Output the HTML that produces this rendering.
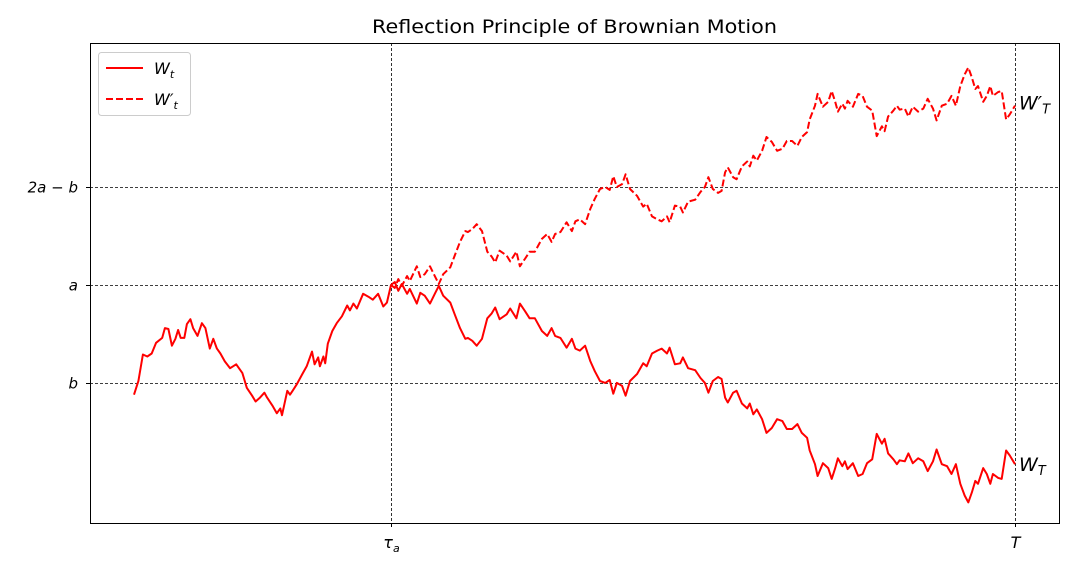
<!DOCTYPE html>
<html><head><meta charset="utf-8"><style>
body{margin:0;background:#fff;}
svg{display:block;font-family:"DejaVu Sans","Liberation Sans",sans-serif;}
</style></head><body>
<svg id="chart" width="1090" height="577">
<rect x="0" y="0" width="1090" height="577" fill="#fff"/>
<text x="372" y="33" font-size="19" textLength="405" lengthAdjust="spacingAndGlyphs" fill="#000">Reflection Principle of Brownian Motion</text>
<g id="grid"></g>
<g id="lines"></g>
<rect x="90.5" y="43.5" width="969" height="480" fill="none" stroke="#000" stroke-width="1"/>
<g id="ticks"></g>
<g>
<rect x="98.5" y="52.5" width="92" height="63" rx="3" fill="#fff" fill-opacity="0.8" stroke="#ccc"/>
<line x1="106" y1="68" x2="143" y2="68" stroke="red" stroke-width="2"/>
<text x="154" y="74" font-size="16" font-style="italic">W<tspan font-size="11" dy="4">t</tspan></text>
<line x1="106" y1="99" x2="143" y2="99" stroke="red" stroke-width="2" stroke-dasharray="7,3"/>
<text x="154" y="105" font-size="16" font-style="italic">W′<tspan font-size="11" dy="4">t</tspan></text>
</g>
</svg>
<script>
const times=[0,.005,.010,.015,.020,.025,.032,.035,.039,.043,.047,.050,.053,.057,.060,.064,.067,.072,.077,.081,.086,.090,.094,.098,.103,.109,.116,.123,.128,.134,.138,.143,.148,.151,.157,.162,.166,.168,.174,.177,.180,.185,.191,.196,.202,.205,.209,.211,.215,.217,.220,.225,.230,.236,.242,.245,.249,.253,.260,.266,.271,.277,.283,.287,.2917,.296,.300,.304,.310,.313,.321,.325,.330,.336,.342,.346,.351,.359,.364,.370,.376,.379,.384,.389,.395,.401,.406,.410,.415,.423,.427,.434,.438,.444,.449,.455,.463,.469,.474,.478,.484,.491,.497,.501,.506,.512,.518,.523,.529,.535,.540,.544,.548,.554,.558,.563,.571,.578,.582,.588,.594,.599,.605,.608,.614,.620,.623,.629,.637,.643,.648,.652,.657,.663,.667,.671,.674,.680,.684,.690,.696,.699,.703,.707,.713,.718,.724,.730,.736,.741,.747,.753,.758,.764,.767,.773,.776,.782,.788,.792,.796,.799,.804,.807,.810,.816,.822,.827,.832,.838,.843,.849,.852,.856,.862,.866,.869,.875,.879,.884,.890,.896,.901,.907,.911,.917,.923,.928,.933,.938,.943,.947,.951,.955,.958,.964,.968,.972,.975,.981,.985,.990,.994,1.000];
const values=[-.12,.02,.29,.27,.30,.41,.46,.56,.55,.38,.45,.54,.46,.46,.60,.65,.56,.48,.61,.56,.35,.45,.35,.30,.22,.15,.19,.10,-.05,-.13,-.19,-.15,-.10,-.15,-.23,-.31,-.26,-.33,-.08,-.12,-.08,-.01,.09,.17,.32,.19,.26,.17,.27,.20,.40,.53,.61,.68,.79,.74,.81,.76,.91,.88,.85,.91,.78,.82,1.00,1.03,.94,1.01,.91,.96,.81,.92,.89,.81,.92,.99,.89,.82,.70,.56,.45,.46,.43,.38,.45,.66,.71,.77,.65,.70,.76,.66,.81,.73,.66,.66,.53,.48,.56,.48,.46,.36,.45,.35,.33,.38,.22,.12,.02,.00,.03,-.11,.00,-.03,-.13,.02,.09,.20,.17,.30,.33,.35,.30,.36,.19,.20,.26,.15,.13,.05,.00,-.10,.02,.06,.04,-.15,-.20,-.10,-.08,-.21,-.26,-.21,-.32,-.27,-.37,-.51,-.46,-.37,-.39,-.47,-.47,-.42,-.51,-.56,-.69,-.83,-.95,-.82,-.87,-.98,-.87,-.77,-.85,-.80,-.88,-.82,-.95,-.93,-.82,-.78,-.52,-.62,-.57,-.72,-.78,-.83,-.79,-.80,-.72,-.82,-.77,-.80,-.90,-.80,-.68,-.83,-.85,-.93,-.83,-1.03,-1.15,-1.22,-1.12,-1.00,-1.03,-.87,-.93,-1.03,-.93,-.97,-.98,-.69,-.74,-.83];
const levelB=0, levelA=1;
const tau=0.2917, tEnd=1;
const yTickLabels=["b","a","2a − b"];
const xTickLabels=["τ","T"];

const NS="http://www.w3.org/2000/svg";
const PL=90,PR=1059,PT=43,PB=523;
const xMin=-0.05,xMax=1.05,yMin=-1.43,yMax=3.47;
function xs(t){return PL+(t-xMin)/(xMax-xMin)*(PR-PL);}
function ys(v){return PT+(yMax-v)/(yMax-yMin)*(PB-PT);}
function mk(tag,attrs,parent){const e=document.createElementNS(NS,tag);for(const k in attrs)e.setAttribute(k,attrs[k]);parent.appendChild(e);return e;}

const grid=document.getElementById('grid');
const lines=document.getElementById('lines');
const ticks=document.getElementById('ticks');
const yLevels=[levelB,levelA,2*levelA-levelB];
yLevels.forEach((v,i)=>{
  const y=Math.round(ys(v))+0.5;
  const g=mk('line',{x1:PL,x2:PR,y1:y,y2:y,stroke:'#000','stroke-width':0.8,'stroke-dasharray':'3,2'},grid);
  
  
  const tk=mk('line',{x1:PL-4,x2:PL,y1:y,y2:y,stroke:'#000','stroke-width':1},ticks);
  
  
  const tx=mk('text',{x:PL-12,y:y+5,'text-anchor':'end','font-size':15,'font-style':'italic'},ticks);
  tx.textContent=yTickLabels[i];
  
  
});
[tau,tEnd].forEach((t,i)=>{
  const x=Math.round(xs(t))+0.5;
  const g=mk('line',{x1:x,x2:x,y1:PT,y2:PB,stroke:'#000','stroke-width':0.8,'stroke-dasharray':'3,2'},grid);
  
  
  const tk=mk('line',{x1:x,x2:x,y1:PB,y2:PB+4,stroke:'#000','stroke-width':1},ticks);
  
  
  const tx=mk('text',{x:x,y:PB+25,'text-anchor':'middle','font-size':16,'font-style':'italic'},ticks);
  tx.textContent=xTickLabels[i];
  if(i===0){const s=mk('tspan',{'font-size':11,dy:4},tx);s.textContent='a';}
  
  
});

let dW='',dR='';
times.forEach((t,i)=>{
  const v=values[i];
  dW+=(i?'L':'M')+xs(t).toFixed(1)+','+ys(v).toFixed(1);
  if(t>=tau){const r=2*levelA-v;dR+=(dR?'L':'M')+xs(t).toFixed(1)+','+ys(r).toFixed(1);}
});
const pr=mk('path',{d:dR,fill:'none',stroke:'red','stroke-width':2,'stroke-dasharray':'7,3','stroke-linejoin':'round'},lines);


const pw=mk('path',{d:dW,fill:'none',stroke:'red','stroke-width':2,'stroke-linejoin':'round'},lines);



const last=values[values.length-1];
const l1=mk('text',{x:xs(tEnd)+4,y:ys(last)+7,'font-size':19,'font-style':'italic'},lines);
l1.innerHTML='W<tspan font-size="13" dy="4">T</tspan>';


const l2=mk('text',{x:xs(tEnd)+4,y:ys(2*levelA-last)+4,'font-size':19,'font-style':'italic'},lines);
l2.innerHTML='W′<tspan font-size="13" dy="4">T</tspan>';


</script>
</body></html>
